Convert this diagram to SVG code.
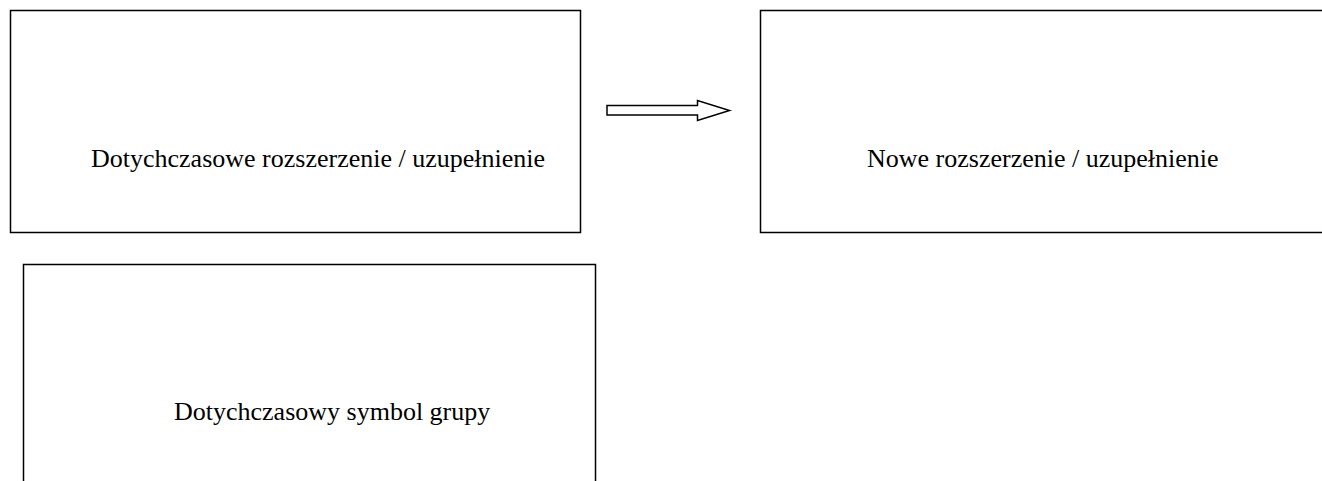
<svg xmlns="http://www.w3.org/2000/svg" width="1322" height="481" viewBox="0 0 1322 481">
<style>
.box{fill:#fff;stroke:#000;stroke-width:1.5}
.lbl{font-family:"Liberation Serif","Times New Roman",serif;font-size:26px;fill:#000}
.arr{fill:#fff;stroke:#000;stroke-width:1.5;stroke-linejoin:miter}
</style>
<rect width="1322" height="481" fill="#fff"/>
<g id="node-existing-extension">
<rect class="box" x="10.5" y="10.5" width="570" height="222"/>
<text class="lbl" x="91" y="167">Dotychczasowe rozszerzenie / uzupełnienie</text>
</g>
<g id="node-new-extension">
<rect class="box" x="760.5" y="10.5" width="600" height="222"/>
<text class="lbl" x="867" y="167">Nowe rozszerzenie / uzupełnienie</text>
</g>
<g id="node-existing-group-symbol">
<rect class="box" x="23.5" y="264.5" width="572" height="260"/>
<text class="lbl" x="174" y="420">Dotychczasowy symbol grupy</text>
</g>
<g id="connectors">
<path class="arr" d="M607,105.5 L697.5,105.5 L697.5,100.5 L729.5,110.5 L697.5,120.5 L697.5,115 L607,115 Z"/>
</g>
</svg>
